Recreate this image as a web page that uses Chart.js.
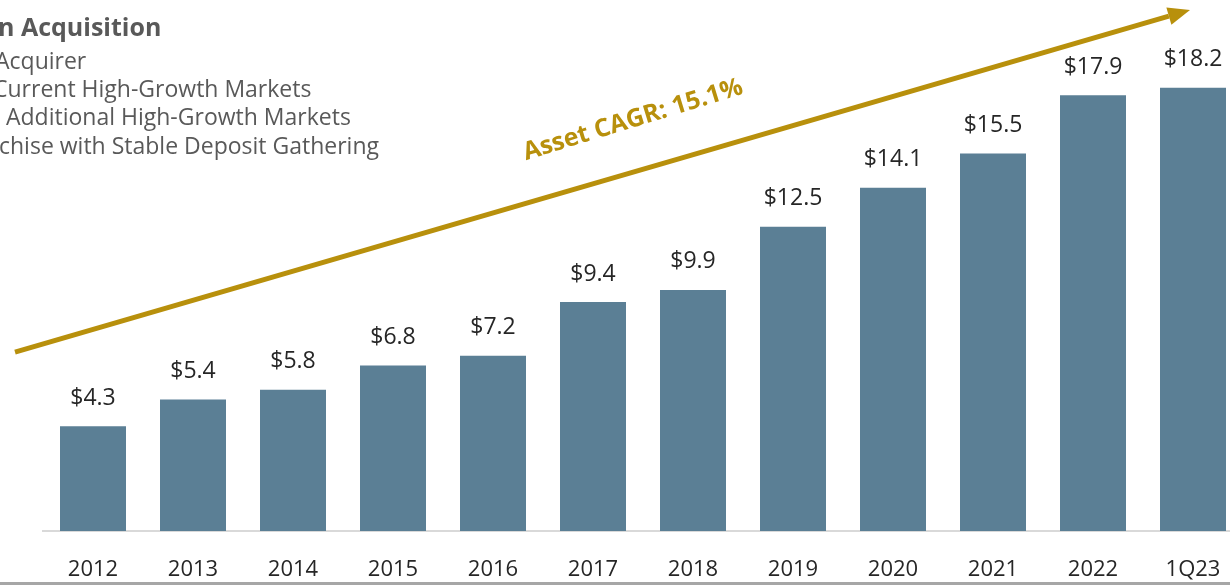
<!DOCTYPE html>
<html>
<head>
<meta charset="utf-8">
<script src="https://cdn.jsdelivr.net/npm/chart.js@4.4.0/dist/chart.umd.min.js"></script>
<style>
    html, body {
        margin: 0;
        padding: 0;
        width: 1230px;
        height: 587px;
        overflow: hidden;
        background: #ffffff;
        font-family: "Open Sans", "Noto Sans", sans-serif;
    }
    #wrap {
        position: absolute;
        left: 0;
        top: 0;
        width: 1250px;
        height: 587px;
    }
    .notes {
        position: absolute;
        left: 0;
        top: 0;
        color: #595959;
        white-space: nowrap;
    }
    .notes .head {
        position: absolute;
        left: -2px;
        top: 9px;
        font-size: 25px;
        font-weight: 700;
    }
    .notes .line {
        position: absolute;
        font-size: 23px;
    }
    .bottom-rule {
        position: absolute;
        left: 0;
        top: 582px;
        width: 1230px;
        height: 3px;
        background: #a6a6a6;
    }
</style>
</head>
<body>
<div id="wrap">
    <canvas id="assets-chart" width="1250" height="587"></canvas>
</div>
<div class="notes">
    <div class="head">n Acquisition</div>
    <div class="line" style="left:-5px; top:44px;">Acquirer</div>
    <div class="line" style="left:-7px; top:72px;">Current High-Growth Markets</div>
    <div class="line" style="left:6px; top:100px;">Additional High-Growth Markets</div>
    <div class="line" style="left:-1px; top:129px;">chise with Stable Deposit Gathering</div>
</div>
<div class="bottom-rule"></div>

<script>
// Total assets ($B)
const periods = ['2012', '2013', '2014', '2015', '2016', '2017', '2018', '2019', '2020', '2021', '2022', '1Q23'];
const totalAssets = [4.3, 5.4, 5.8, 6.8, 7.2, 9.4, 9.9, 12.5, 14.1, 15.5, 17.9, 18.2];
const cagrLabel = 'Asset CAGR: 15.1%';

// arrow end points in axis units (category index, $B)
const arrowStart = { x: -0.78, y: 7.35 };
const arrowEnd = { x: 10.97, y: 21.4 };

const GOLD = '#B8900C';

// value labels above each bar
const valueLabels = {
    id: 'valueLabels',
    afterDatasetsDraw(chart) {
        const ctx = chart.ctx;
        const meta = chart.getDatasetMeta(0);
        ctx.save();
        ctx.font = '23px "Open Sans", "Noto Sans", sans-serif';
        ctx.fillStyle = '#262626';
        ctx.textAlign = 'center';
        ctx.textBaseline = 'middle';
        meta.data.forEach((bar, i) => {
            ctx.fillText('$' + totalAssets[i].toFixed(1), bar.x, bar.y - 28);
        });
        ctx.restore();
    }
};

// CAGR arrow + label
const cagrArrow = {
    id: 'cagrArrow',
    afterDatasetsDraw(chart) {
        const ctx = chart.ctx;
        const xs = chart.scales.x;
        const ys = chart.scales.y;
        const x1 = xs.getPixelForValue(arrowStart.x);
        const y1 = ys.getPixelForValue(arrowStart.y);
        const x2 = xs.getPixelForValue(arrowEnd.x);
        const y2 = ys.getPixelForValue(arrowEnd.y);
        const ang = Math.atan2(y2 - y1, x2 - x1);
        const headLen = 22;
        const headHalf = 9;

        ctx.save();
        ctx.strokeStyle = GOLD;
        ctx.fillStyle = GOLD;
        ctx.lineWidth = 5;
        ctx.beginPath();
        ctx.moveTo(x1, y1);
        ctx.lineTo(x2 - headLen * Math.cos(ang), y2 - headLen * Math.sin(ang));
        ctx.stroke();

        ctx.translate(x2, y2);
        ctx.rotate(ang);
        ctx.beginPath();
        ctx.moveTo(0, 0);
        ctx.lineTo(-headLen, -headHalf);
        ctx.lineTo(-headLen, headHalf);
        ctx.closePath();
        ctx.fill();
        ctx.restore();

        // label sits above the arrow, slightly steeper
        ctx.save();
        ctx.translate(633, 120);
        ctx.rotate(-17 * Math.PI / 180);
        ctx.font = 'bold 25px "Open Sans", "Noto Sans", sans-serif';
        ctx.fillStyle = GOLD;
        ctx.textAlign = 'center';
        ctx.textBaseline = 'middle';
        ctx.fillText(cagrLabel, 0, 0);
        ctx.restore();
    }
};

const assetsChart = new Chart(
    document.getElementById('assets-chart').getContext('2d'),
    {
        type: 'bar',
        data: {
            labels: periods,
            datasets: [{
                data: totalAssets,
                backgroundColor: '#5B7F95',
                barPercentage: 0.66,
                categoryPercentage: 1.0
            }]
        },
        options: {
            responsive: false,
            animation: false,
            layout: {
                padding: { left: 43, right: 7, top: 44, bottom: -22 }
            },
            plugins: {
                legend: { display: false },
                tooltip: { enabled: false }
            },
            scales: {
                x: {
                    grid: { display: false, drawTicks: false },
                    border: { display: true, color: '#d9d9d9', width: 2 },
                    ticks: {
                        color: '#262626',
                        padding: 17,
                        font: { size: 22, lineHeight: 2, family: '"Open Sans", "Noto Sans", sans-serif' }
                    }
                },
                y: {
                    display: false,
                    min: 0,
                    max: 20
                }
            }
        },
        plugins: [valueLabels, cagrArrow]
    }
);
</script>
</body>
</html>
